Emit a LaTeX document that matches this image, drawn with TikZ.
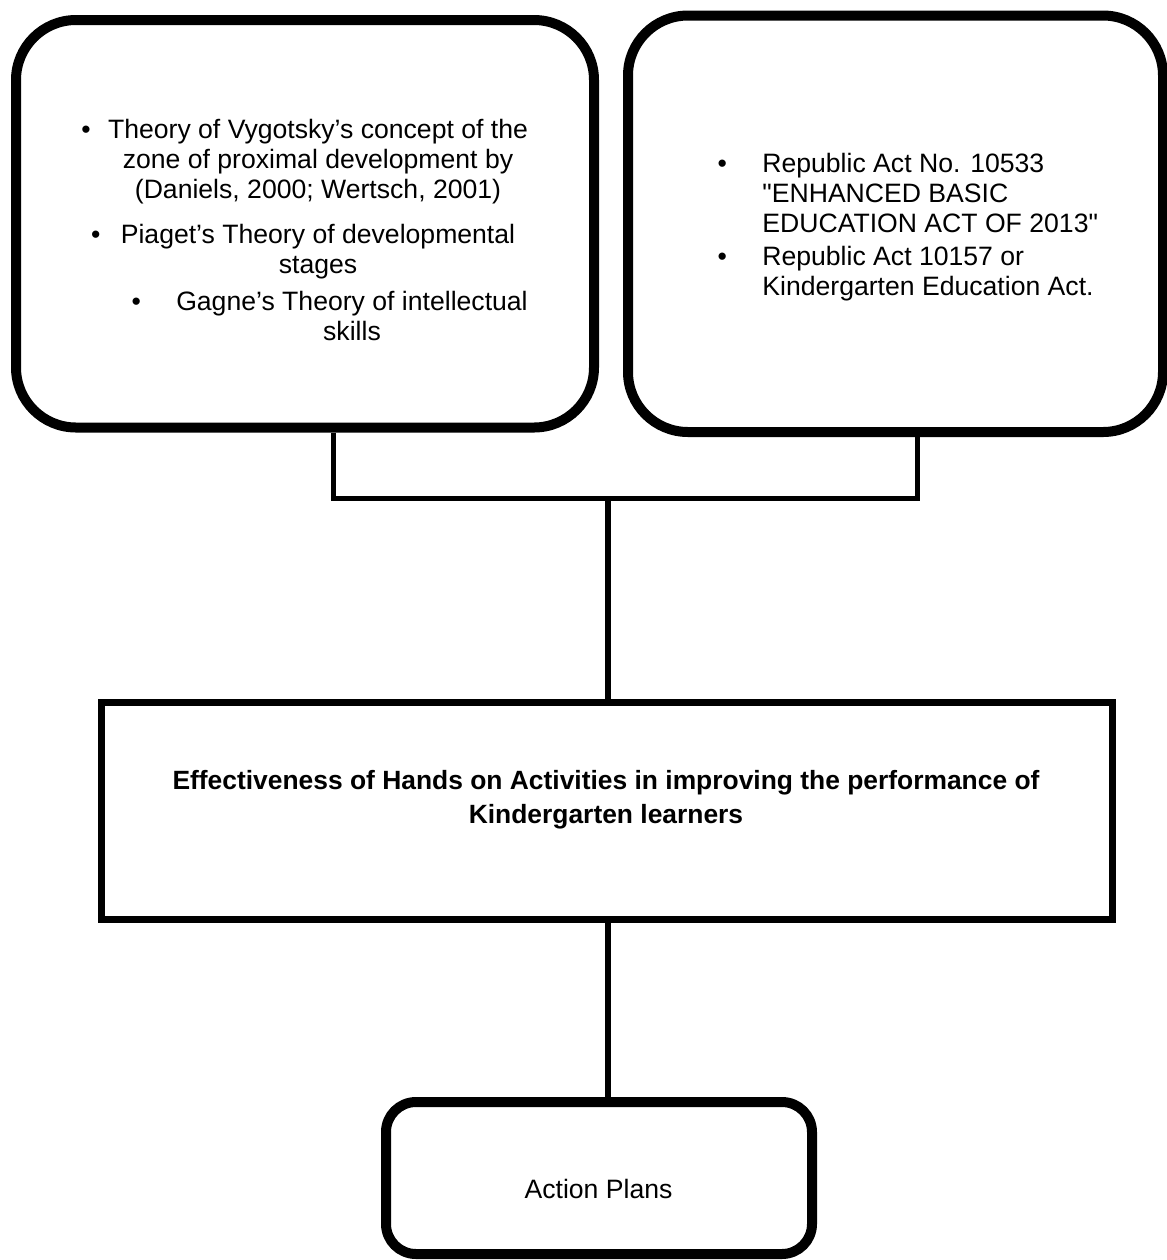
\documentclass[tikz,border=0pt]{standalone}
\usepackage{fontspec}
\setmainfont{Liberation Sans}
\newfontfamily\qfont{Liberation Sans}
\newcommand{\dq}{{\qfont"}}
\begin{document}
\begin{tikzpicture}[x=0.5pt,y=-0.5pt,
  rbox/.style={draw,line width=5pt,rounded corners=30pt,inner sep=0pt},
  sbox/.style={draw,line width=3.5pt,inner sep=0pt},
  txt/.style={inner sep=0pt,font=\fontsize{13.3}{15}\selectfont},
  conn/.style={line width=2.5pt},
  trunk/.style={line width=3pt}]
\useasboundingbox (0,0) rectangle (1167,1260);
% boxes
\node[rbox,minimum width=289pt,minimum height=203.75pt] (theo) at (305,223.75) {};
\node[rbox,minimum width=267.5pt,minimum height=208.25pt] (law) at (895.5,223.75) {};
\node[sbox,minimum width=505.5pt,minimum height=108.75pt] (aim) at (606.5,810.75) {};
\node[rbox,rounded corners=15pt,minimum width=213pt,minimum height=76pt] (plan) at (599,1178) {};
% texts
\node[txt,align=center] (theo1) at (318,162) {\llap{\textbullet\hspace{8.7pt}}Theory of Vygotsky's concept of the\\zone of proximal development by\\(Daniels, 2000; Wertsch, 2001)};
\node[txt,align=center] (theo2) at (318,251.5) {\llap{\textbullet\hspace{10.2pt}}Piaget's Theory of developmental\\stages};
\node[txt,align=center] (theo3) at (352,315.5) {\llap{\textbullet\hspace{17.7pt}}Gagne's Theory of intellectual\\skills};
\node[txt,align=left,anchor=west] (law1) at (762,193) {\llap{\textbullet\hspace{17.7pt}}Republic Act No. 10533\\\dq ENHANCED BASIC\\EDUCATION ACT OF 2013\dq};
\node[txt,align=left,anchor=west] (law2) at (762,273.5) {\llap{\textbullet\hspace{17.7pt}}Republic Act 10157 or\\Kindergarten Education Act.};
\node[txt,align=center,font=\bfseries\fontsize{13.2}{17}\selectfont] (aimtext) at (606,800) {Effectiveness of Hands on Activities in improving the performance of\\Kindergarten learners};
\node[txt] (plantext) at (598.5,1189) {Action Plans};
% connectors
\coordinate (split) at (608,498);
\draw[conn] ([xshift=14.25pt]theo.south) |- (split) -| ([xshift=10.75pt]law.south);
\draw[trunk] (split) -- (split |- aim.north);
\draw[trunk] (aim.south -| split) -- (split |- plan.north);
\end{tikzpicture}
\end{document}
